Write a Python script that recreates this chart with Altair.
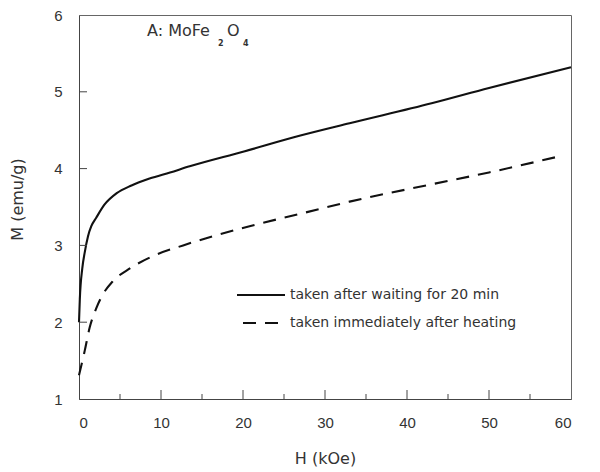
import altair as alt
import pandas as pd

# ---- data ----
H_wait = [0, 0.1, 0.4, 0.7, 1.1, 1.5, 2.1, 3.1, 4.6, 6.4, 8.6, 11.1, 13.5, 20, 27, 33, 43, 50, 60]
M_wait = [2.0, 2.3, 2.7, 2.91, 3.12, 3.25, 3.36, 3.53, 3.68, 3.78, 3.87, 3.95, 4.03, 4.22, 4.43, 4.59, 4.85, 5.05, 5.32]

H_imm = [0, 0.7, 1.3, 2.1, 2.9, 4.1, 6.2, 9.0, 12.7, 20.8, 27.3, 33, 43.2, 50, 58.2]
M_imm = [1.31, 1.63, 1.93, 2.18, 2.36, 2.53, 2.70, 2.86, 3.0, 3.25, 3.42, 3.57, 3.80, 3.95, 4.15]

x_tick_labels = [0, 10, 20, 30, 40, 50, 60]
y_tick_labels = [1, 2, 3, 4, 5, 6]
x_major_ticks = [10, 20, 30, 40, 50]
x_minor_ticks = [5, 15, 25, 35, 45, 55]
y_major_ticks = [2, 3, 4, 5]

legend_labels = ["taken after waiting for 20 min", "taken immediately after heating"]
annotation_parts = ["A: MoFe", "2", "O", "4"]

W, Hh = 492, 384
TOP = 7
INK = "#111"
TXT = "#333"

df_wait = pd.DataFrame({"H": H_wait, "M": M_wait})
df_imm = pd.DataFrame({"H": H_imm, "M": M_imm})
df_xmaj = pd.DataFrame({"H": x_major_ticks})
df_xmin = pd.DataFrame({"H": x_minor_ticks})
df_ymaj = pd.DataFrame({"M": y_major_ticks})
one = pd.DataFrame({"k": [0]})

xs = alt.Scale(domain=[0, 60], nice=False, zero=False)
ys = alt.Scale(domain=[1, 6], nice=False, zero=False)

x_axis = alt.Axis(values=x_tick_labels, ticks=False, tickSize=0, labelPadding=16,
                  labelFont="Liberation Sans", labelFontSize=15, labelColor=TXT,
                  domain=True, domainColor="#444", grid=False, title="H (kOe)",
                  titleFont="DejaVu Sans", titleFontSize=16, titleFontWeight="normal",
                  titleColor=TXT, titleX=246, titleY=59, titleBaseline="middle",
                  titleAlign="center")
y_axis = alt.Axis(values=y_tick_labels, ticks=False, tickSize=0, labelPadding=17,
                  labelFont="Liberation Sans", labelFontSize=15, labelColor=TXT,
                  domain=True, domainColor="#444", grid=False, title="M (emu/g)",
                  titleFont="DejaVu Sans", titleFontSize=16, titleFontWeight="normal",
                  titleColor=TXT, titleX=-62, titleY=199 - 8 - TOP, titleBaseline="middle",
                  titleAlign="center", titleAngle=270)

X = alt.X("H:Q", scale=xs, axis=x_axis)
Y = alt.Y("M:Q", scale=ys, axis=y_axis)

solid = alt.Chart(df_wait).mark_line(color=INK, strokeWidth=2.1, interpolate="monotone").encode(
    x=X, y=Y)
dashed = alt.Chart(df_imm).mark_line(color=INK, strokeWidth=2.1, interpolate="monotone",
                                     strokeDash=[13, 9]).encode(x=X, y=Y)

xmaj = alt.Chart(df_xmaj).mark_rule(color="#444", strokeWidth=1).encode(
    x=X, y=alt.value(Hh), y2=alt.value(Hh - 9))
xmin = alt.Chart(df_xmin).mark_rule(color="#444", strokeWidth=1).encode(
    x=X, y=alt.value(Hh), y2=alt.value(Hh - 5))
ymaj = alt.Chart(df_ymaj).mark_rule(color="#444", strokeWidth=1).encode(
    y=Y, x=alt.value(0), x2=alt.value(8))

ly1 = 295 - 8 - TOP
ly2 = 323 - 8 - TOP
leg_solid = alt.Chart(one).mark_rule(color=INK, strokeWidth=2.1).encode(
    x=alt.value(158), x2=alt.value(206), y=alt.value(ly1))
leg_dash = alt.Chart(one).mark_rule(color=INK, strokeWidth=2.1, strokeDash=[13, 9]).encode(
    x=alt.value(164), x2=alt.value(203), y=alt.value(ly2))
leg_t1 = alt.Chart(one).mark_text(text=legend_labels[0], font="DejaVu Sans", fontSize=14,
                                  color=TXT, align="left", baseline="middle").encode(
    x=alt.value(211), y=alt.value(ly1))
leg_t2 = alt.Chart(one).mark_text(text=legend_labels[1], font="DejaVu Sans", fontSize=14,
                                  color=TXT, align="left", baseline="middle").encode(
    x=alt.value(211), y=alt.value(ly2))

ay = 31 - 8 - TOP
sy = 44 - 8 - TOP
ann_main = alt.Chart(one).mark_text(text=annotation_parts[0], font="DejaVu Sans", fontSize=16,
                                    color=TXT, align="left", baseline="middle").encode(
    x=alt.value(68), y=alt.value(ay))
ann_s2 = alt.Chart(one).mark_text(text=annotation_parts[1], font="DejaVu Sans", fontSize=8,
                                  fontWeight="bold", color=TXT, align="left",
                                  baseline="middle").encode(x=alt.value(139), y=alt.value(sy))
ann_o = alt.Chart(one).mark_text(text=annotation_parts[2], font="DejaVu Sans", fontSize=16,
                                 color=TXT, align="left", baseline="middle").encode(
    x=alt.value(148), y=alt.value(ay))
ann_s4 = alt.Chart(one).mark_text(text=annotation_parts[3], font="DejaVu Sans", fontSize=8,
                                  fontWeight="bold", color=TXT, align="left",
                                  baseline="middle").encode(x=alt.value(164), y=alt.value(sy))

chart = alt.layer(
    solid, dashed, xmaj, xmin, ymaj,
    leg_solid, leg_dash, leg_t1, leg_t2,
    ann_main, ann_s2, ann_o, ann_s4,
).properties(
    width=W, height=Hh,
    autosize=alt.AutoSizeParams(type="none"),
    padding={"left": 71, "top": TOP, "right": 10, "bottom": 72},
    background="white",
).configure_view(stroke="#666", strokeWidth=1)

chart.save("out.html", embed_options={"renderer": "svg", "actions": False})
